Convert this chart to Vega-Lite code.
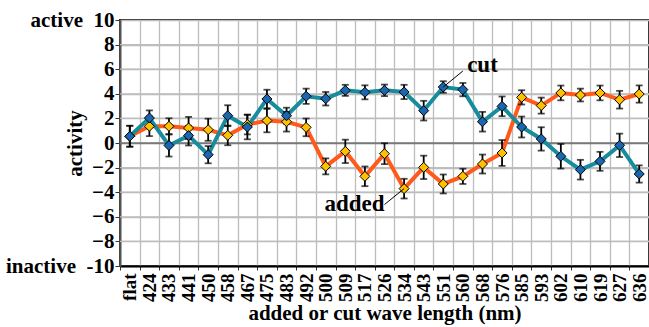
{
  "$schema": "https://vega.github.io/schema/vega-lite/v6.json",
  "width": 529,
  "height": 246,
  "autosize": "none",
  "padding": {"left": 120, "top": 20, "right": 0, "bottom": 61},
  "background": "white",
  "config": {
    "font": "Liberation Serif",
    "view": {"stroke": "#222", "strokeWidth": 2},
    "axis": {
      "labelFont": "Liberation Serif",
      "titleFont": "Liberation Serif",
      "labelFontWeight": "bold",
      "titleFontWeight": "bold",
      "labelColor": "black",
      "titleColor": "black",
      "labelFontSize": 19,
      "titleFontSize": 21,
      "gridColor": "#bdbdbd",
      "gridWidth": 1.3,
      "tickColor": "#333",
      "domainColor": "#333",
      "domainWidth": 2,
      "labelOverlap": false
    },
    "axisY": {"labelFontSize": 21}
  },
  "datasets": {
    "pts": [
      {"cat": "flat", "s": "cut", "v": 0.55, "e": 0.85},
      {"cat": "424", "s": "cut", "v": 2.03, "e": 0.62},
      {"cat": "433", "s": "cut", "v": -0.2, "e": 0.9},
      {"cat": "441", "s": "cut", "v": 0.6, "e": 0.8},
      {"cat": "450", "s": "cut", "v": -0.95, "e": 0.7},
      {"cat": "458", "s": "cut", "v": 2.22, "e": 0.85},
      {"cat": "467", "s": "cut", "v": 1.3, "e": 1.0},
      {"cat": "475", "s": "cut", "v": 3.58, "e": 0.75},
      {"cat": "483", "s": "cut", "v": 2.22, "e": 0.65},
      {"cat": "492", "s": "cut", "v": 3.8, "e": 0.62},
      {"cat": "500", "s": "cut", "v": 3.6, "e": 0.55},
      {"cat": "509", "s": "cut", "v": 4.28, "e": 0.45},
      {"cat": "517", "s": "cut", "v": 4.12, "e": 0.57},
      {"cat": "526", "s": "cut", "v": 4.28, "e": 0.47},
      {"cat": "534", "s": "cut", "v": 4.15, "e": 0.58},
      {"cat": "543", "s": "cut", "v": 2.63, "e": 0.8},
      {"cat": "551", "s": "cut", "v": 4.55, "e": 0.47},
      {"cat": "560", "s": "cut", "v": 4.34, "e": 0.54},
      {"cat": "568", "s": "cut", "v": 1.73, "e": 0.8},
      {"cat": "576", "s": "cut", "v": 2.98, "e": 0.8},
      {"cat": "585", "s": "cut", "v": 1.3, "e": 0.85},
      {"cat": "593", "s": "cut", "v": 0.33, "e": 0.95},
      {"cat": "602", "s": "cut", "v": -1.08, "e": 1.0},
      {"cat": "610", "s": "cut", "v": -2.17, "e": 0.8},
      {"cat": "619", "s": "cut", "v": -1.49, "e": 0.77},
      {"cat": "627", "s": "cut", "v": -0.19, "e": 0.95},
      {"cat": "636", "s": "cut", "v": -2.52, "e": 0.7},
      {"cat": "flat", "s": "added", "v": 0.55, "e": 0.85},
      {"cat": "424", "s": "added", "v": 1.36, "e": 0.8},
      {"cat": "433", "s": "added", "v": 1.36, "e": 0.65},
      {"cat": "441", "s": "added", "v": 1.22, "e": 0.9},
      {"cat": "450", "s": "added", "v": 1.08, "e": 0.9},
      {"cat": "458", "s": "added", "v": 0.62, "e": 0.8},
      {"cat": "467", "s": "added", "v": 1.5, "e": 0.8},
      {"cat": "475", "s": "added", "v": 1.82, "e": 0.95},
      {"cat": "483", "s": "added", "v": 1.73, "e": 0.8},
      {"cat": "492", "s": "added", "v": 1.27, "e": 0.72},
      {"cat": "500", "s": "added", "v": -1.9, "e": 0.65},
      {"cat": "509", "s": "added", "v": -0.68, "e": 0.95},
      {"cat": "517", "s": "added", "v": -2.71, "e": 0.8},
      {"cat": "526", "s": "added", "v": -0.87, "e": 0.85},
      {"cat": "534", "s": "added", "v": -3.71, "e": 0.8},
      {"cat": "543", "s": "added", "v": -1.98, "e": 0.95},
      {"cat": "551", "s": "added", "v": -3.33, "e": 0.77},
      {"cat": "560", "s": "added", "v": -2.71, "e": 0.62},
      {"cat": "568", "s": "added", "v": -1.71, "e": 0.77},
      {"cat": "576", "s": "added", "v": -0.81, "e": 1.05},
      {"cat": "585", "s": "added", "v": 3.71, "e": 0.58},
      {"cat": "593", "s": "added", "v": 3.04, "e": 0.65},
      {"cat": "602", "s": "added", "v": 4.07, "e": 0.6},
      {"cat": "610", "s": "added", "v": 3.9, "e": 0.52},
      {"cat": "619", "s": "added", "v": 4.07, "e": 0.6},
      {"cat": "627", "s": "added", "v": 3.52, "e": 0.72},
      {"cat": "636", "s": "added", "v": 3.98, "e": 0.7}
    ],
    "notes": [
      {"cat": "568", "v": 5.75, "label": "cut", "al": "center"},
      {"cat": "526", "v": -5.55, "label": "added", "al": "right"}
    ],
    "leaders": [
      {"cat": "551", "v": 4.55, "b": "560", "yb": 5.85},
      {"cat": "534", "v": -3.71, "b": "526", "yb": -5.0}
    ],
    "hgrid": [
      {"cat": "flat", "b": "636", "v": -8, "yb": -8},
      {"cat": "flat", "b": "636", "v": -6, "yb": -6},
      {"cat": "flat", "b": "636", "v": -4, "yb": -4},
      {"cat": "flat", "b": "636", "v": -2, "yb": -2},
      {"cat": "flat", "b": "636", "v": 2, "yb": 2},
      {"cat": "flat", "b": "636", "v": 4, "yb": 4},
      {"cat": "flat", "b": "636", "v": 6, "yb": 6},
      {"cat": "flat", "b": "636", "v": 8, "yb": 8}
    ],
    "zero": [{"cat": "flat", "b": "636", "v": 0, "yb": 0}]
  },
  "encoding": {
    "y": {
      "field": "v",
      "type": "quantitative",
      "scale": {"domain": [-10, 10], "nice": false},
      "axis": {
        "title": "activity",
        "values": [-10, -8, -6, -4, -2, 0, 2, 4, 6, 8, 10],
        "grid": true,
        "gridColor": {"condition": {"test": "datum.value === 0", "value": "#7a7a7a"}, "value": "#bdbdbd"},
        "tickSize": 5,
        "labelPadding": 1,
        "labelExpr": "datum.value == 10 ? 'active\u00a0 10' : (datum.value == -10 ? 'inactive\u00a0 -10' : datum.label)",
        "titleX": -45,
        "titleY": 123,
        "titleAlign": "center",
        "titleBaseline": "middle",
        "domainColor": "#555"
      }
    }
  },
  "layer": [
    {
      "data": {"name": "hgrid"},
      "mark": {"type": "rule", "color": "#bdbdbd", "strokeWidth": 1.3},
      "encoding": {
        "x": {
          "field": "cat",
          "type": "nominal",
          "bandPosition": 0,
          "scale": {
            "domain": ["flat","424","433","441","450","458","467","475","483","492","500","509","517","526","534","543","551","560","568","576","585","593","602","610","619","627","636"],
            "paddingInner": 0,
            "paddingOuter": 0
          },
          "axis": {
            "title": "added or cut wave length (nm)",
            "labelAngle": -90,
            "labelPadding": 3,
            "tickSize": 4,
            "tickBand": "extent",
            "grid": true,
            "titlePadding": 1,
            "domainColor": "black"
          }
        },
        "x2": {"field": "b", "bandPosition": 1},
        "y2": {"field": "yb"}
      }
    },
    {
      "data": {"name": "zero"},
      "mark": {"type": "rule", "color": "#7a7a7a", "strokeWidth": 1.6},
      "encoding": {
        "x": {"field": "cat", "type": "nominal", "bandPosition": 0},
        "x2": {"field": "b", "bandPosition": 1},
        "y2": {"field": "yb"}
      }
    },
    {
      "data": {"name": "pts"},
      "transform": [{"filter": "datum.s == 'added'"}],
      "mark": {"type": "line", "color": "#ff5a1a", "strokeWidth": 4},
      "encoding": {"x": {"field": "cat", "type": "nominal"}}
    },
    {
      "data": {"name": "pts"},
      "transform": [{"filter": "datum.s == 'cut'"}],
      "mark": {"type": "line", "color": "#178c9c", "strokeWidth": 4},
      "encoding": {"x": {"field": "cat", "type": "nominal"}}
    },
    {
      "data": {"name": "pts"},
      "mark": {"type": "errorbar", "ticks": {"size": 7, "color": "black"}, "color": "black", "thickness": 1.8},
      "encoding": {
        "x": {"field": "cat", "type": "nominal"},
        "yError": {"field": "e"},
        "detail": {"field": "s"}
      }
    },
    {
      "data": {"name": "pts"},
      "transform": [{"filter": "datum.s == 'added'"}],
      "mark": {"type": "point", "shape": "diamond", "filled": true, "fill": "#ffc000", "stroke": "black", "strokeWidth": 1, "size": 100, "opacity": 1},
      "encoding": {"x": {"field": "cat", "type": "nominal"}}
    },
    {
      "data": {"name": "pts"},
      "transform": [{"filter": "datum.s == 'cut'"}],
      "mark": {"type": "point", "shape": "diamond", "filled": true, "fill": "#1a66b0", "stroke": "black", "strokeWidth": 1, "size": 100, "opacity": 1},
      "encoding": {"x": {"field": "cat", "type": "nominal"}}
    },
    {
      "data": {"name": "leaders"},
      "mark": {"type": "rule", "color": "black", "strokeWidth": 1},
      "encoding": {
        "x": {"field": "cat", "type": "nominal", "bandPosition": 0.5},
        "x2": {"field": "b", "bandPosition": 0.5},
        "y2": {"field": "yb"}
      }
    },
    {
      "data": {"name": "notes"},
      "transform": [{"filter": "datum.al == 'center'"}],
      "mark": {"type": "text", "font": "Liberation Serif", "fontWeight": "bold", "fontSize": 23, "baseline": "alphabetic", "align": "center", "color": "black"},
      "encoding": {"x": {"field": "cat", "type": "nominal"}, "text": {"field": "label"}}
    },
    {
      "data": {"name": "notes"},
      "transform": [{"filter": "datum.al == 'right'"}],
      "mark": {"type": "text", "font": "Liberation Serif", "fontWeight": "bold", "fontSize": 23, "baseline": "alphabetic", "align": "right", "color": "black"},
      "encoding": {"x": {"field": "cat", "type": "nominal"}, "text": {"field": "label"}}
    }
  ]
}
